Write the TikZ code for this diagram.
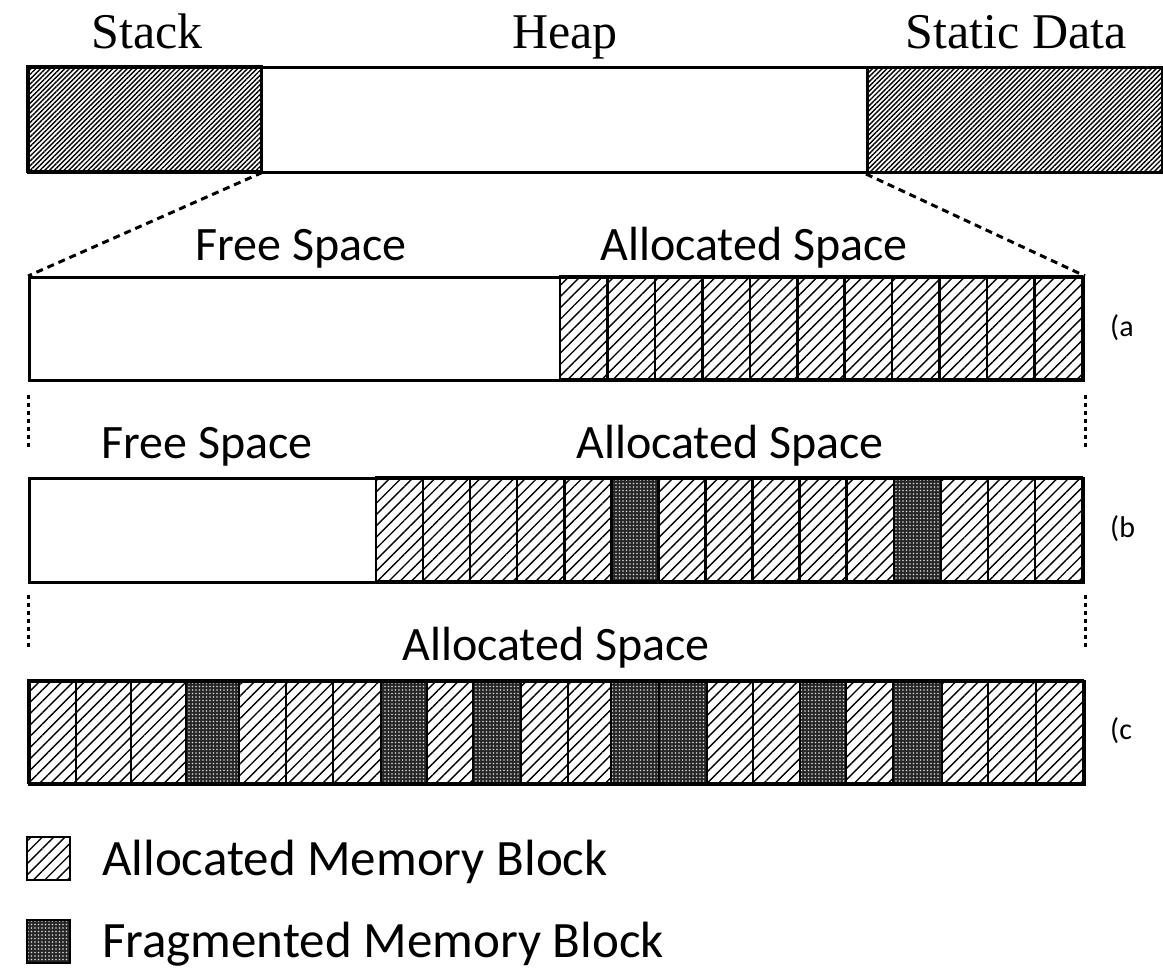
\documentclass[tikz,border=0pt]{standalone}
\usepackage{fontspec}
\setmainfont{Liberation Serif}
\newfontfamily\carlitofont{Carlito}
\usetikzlibrary{patterns.meta}
\begin{document}
\begin{tikzpicture}[x=1pt,y=-1pt,
  bar/.style={draw, line width=3pt, inner sep=0pt, anchor=north west},
  dense/.style={pattern={Lines[angle=45,distance=3.4pt,line width=1.4pt]}},
  alloc/.style={draw, line width=2.5pt, pattern={Lines[angle=45,distance=8pt,line width=1.4pt]}},
  frag/.style={draw, line width=2.5pt, preaction={fill=black!85}, pattern={Dots[distance=3.5pt,radius=0.8pt]}, pattern color=white!85!black},
  serlbl/.style={font=\fontsize{50}{60}\selectfont, anchor=base, inner sep=0pt},
  sanlbl/.style={font=\carlitofont\fontsize{48}{58}\selectfont, anchor=base, inner sep=0pt},
  leglbl/.style={font=\carlitofont\fontsize{51}{60}\selectfont, anchor=base west, inner sep=0pt},
  rowlbl/.style={font=\carlitofont\fontsize{30}{36}\selectfont, anchor=west, inner sep=0pt},
  zoomline/.style={line width=3pt, dash pattern=on 7pt off 5pt},
  gapline/.style={line width=3pt, dash pattern=on 4pt off 4pt}
]
\useasboundingbox (0,0) rectangle (1163,970);

% ---------- top memory layout ----------
\node[bar, minimum width=1134pt, minimum height=105pt] (mem) at (27,66) {};
\node[bar, dense, minimum width=234pt, minimum height=105pt] (stack) at (27,66) {};
\node[bar, dense, minimum width=295pt, minimum height=105pt] (static) at (866,66) {};
\node[serlbl] (lstack) at (147,48) {Stack};
\node[serlbl] (lheap) at (565,48) {Heap};
\node[serlbl] (lstatic) at (1016,48) {Static Data};

% ---------- row (a) ----------
\foreach \i in {0,...,10} {
  \path[alloc] ({560+\i*47.45},276) rectangle ({560+(\i+1)*47.45},379);
}
\node[bar, minimum width=1054pt, minimum height=103pt] (rowa) at (28,276) {};
\node[sanlbl] (afree) at (301,260) {Free Space};
\node[sanlbl] (aalloc) at (754,260) {Allocated Space};
\node[rowlbl] (la) at (1110,328) {(a};

\draw[zoomline] (stack.south east) -- (rowa.north west);
\draw[zoomline] (static.south west) -- (rowa.north east);

% ---------- row (b) ----------
\foreach \i in {0,...,14} {
  \pgfmathtruncatemacro{\k}{\i}
  \ifnum\k=5
    \path[frag] ({376+\i*47.07},477) rectangle ({376+(\i+1)*47.07},581);
  \else\ifnum\k=11
    \path[frag] ({376+\i*47.07},477) rectangle ({376+(\i+1)*47.07},581);
  \else
    \path[alloc] ({376+\i*47.07},477) rectangle ({376+(\i+1)*47.07},581);
  \fi\fi
}
\node[bar, minimum width=1054pt, minimum height=104pt] (rowb) at (28,477) {};
\node[sanlbl] (bfree) at (207,458) {Free Space};
\node[sanlbl] (balloc) at (730,458) {Allocated Space};
\node[rowlbl] (lb) at (1110,529) {(b};

\coordinate (a1) at ([yshift=-13pt]rowa.south west);
\coordinate (a2) at ([yshift=-66pt]rowa.south west);
\coordinate (a3) at ([yshift=-13pt]rowa.south east);
\coordinate (a4) at ([yshift=-66pt]rowa.south east);
\draw[gapline] (a1) -- (a2);
\draw[gapline] (a3) -- (a4);

% ---------- row (c) ----------
\foreach \a/\b/\t in {28/76/0,76/131/0,131/186/0,186/239/1,239/286/0,286/333/0,333/381/0,381/427/1,427/473/0,473/521/1,521/568/0,568/611/0,611/659/1,659/707/1,707/753/0,753/800/0,800/846/1,846/893/0,893/942/1,942/988/0,988/1036/0,1036/1083/0} {
  \ifnum\t=1
    \path[frag] (\a,680) rectangle (\b,783);
  \else
    \path[alloc] (\a,680) rectangle (\b,783);
  \fi
}
\node[bar, minimum width=1055pt, minimum height=103pt] (rowc) at (28,680) {};
\node[sanlbl] (calloc) at (556,660) {Allocated Space};
\node[rowlbl] (lc) at (1110,731) {(c};

\coordinate (b1) at ([yshift=-11pt]rowb.south west);
\coordinate (b2) at ([yshift=-64pt]rowb.south west);
\coordinate (b3) at ([yshift=-11pt]rowb.south east);
\coordinate (b4) at ([yshift=-64pt]rowb.south east);
\draw[gapline] (b1) -- (b2);
\draw[gapline] (b3) -- (b4);

% ---------- legend ----------
\path[alloc] (27,837) rectangle (70,880);
\node[inner sep=0pt, minimum size=43pt] (legA) at (48.5,858.5) {};
\path[frag] (27,920) rectangle (70,963);
\node[inner sep=0pt, minimum size=43pt] (legF) at (48.5,941.5) {};
\node[leglbl] (tA) at (102,875) {Allocated Memory Block};
\node[leglbl] (tF) at (102,957) {Fragmented Memory Block};
\end{tikzpicture}
\end{document}
